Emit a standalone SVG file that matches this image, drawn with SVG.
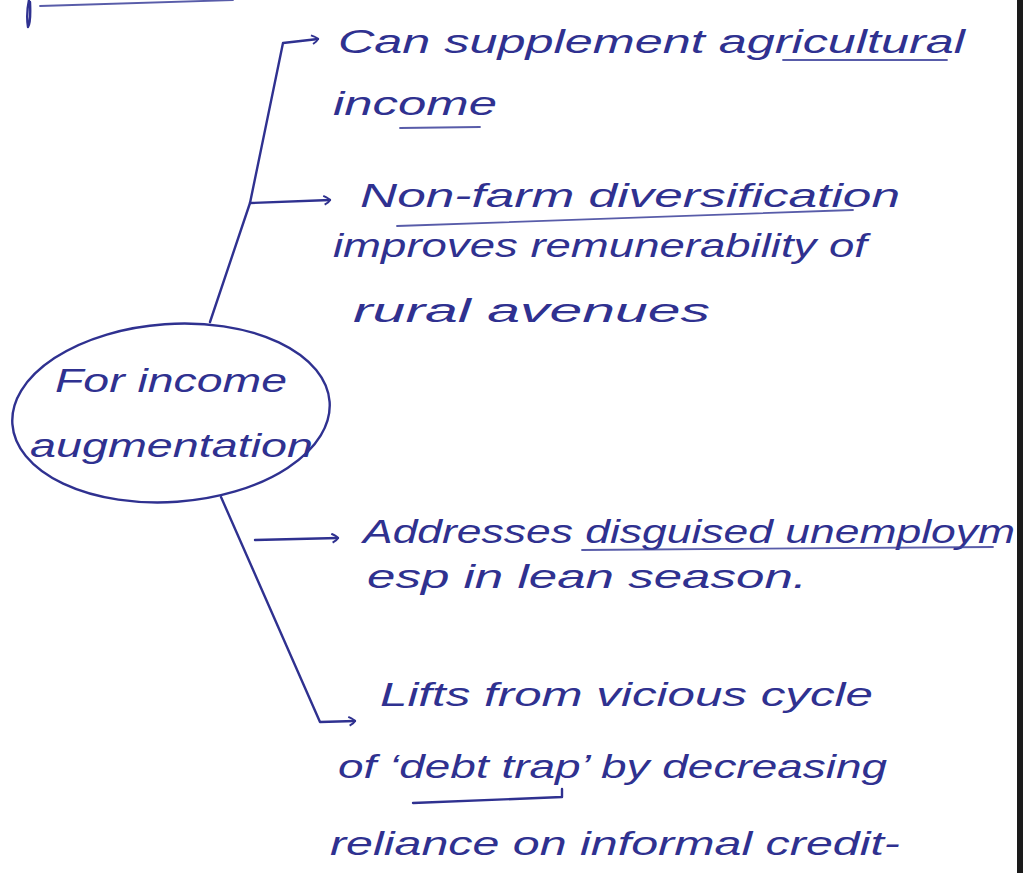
<svg xmlns="http://www.w3.org/2000/svg" width="1028" height="873" viewBox="0 0 1028 873">
<style>
.ink{fill:none;stroke:#2f3190;stroke-width:2.4;stroke-linecap:round;stroke-linejoin:round}
.ul{fill:none;stroke:#3b3f9a;stroke-width:1.8;stroke-linecap:round;opacity:.85}
.t{font-family:"Liberation Sans","DejaVu Sans",sans-serif;font-size:34px;fill:#2f3190;font-style:italic}
</style>
<defs>
<marker id="hook" viewBox="0 0 10 10" refX="9" refY="5" markerWidth="11" markerHeight="11" orient="auto" markerUnits="userSpaceOnUse">
<path d="M3,1 Q9,4 9,5 Q8,7 4,9" fill="none" stroke="#2f3190" stroke-width="1.8"/>
</marker>
</defs>
<rect width="1028" height="873" fill="#ffffff"/>
<rect x="1017" y="0" width="6" height="873" fill="#1a1a1a"/>
<path class="ink" d="M29,0 Q26,14 28,27 Q31,22 30,2"/>
<path class="ul" d="M40,6 L233,0"/>
<g id="connectors">
<path class="ink" d="M210,322 L250,203 L283,43 L318,39" marker-end="url(#hook)"/>
<path class="ink" d="M250,203 L330,200" marker-end="url(#hook)"/>
<path class="ink" d="M221,497 L320,722 L355,721" marker-end="url(#hook)"/>
<path class="ink" d="M255,540 L338,538" marker-end="url(#hook)"/>
</g>
<g id="node-center">
<ellipse class="ink" cx="171" cy="413" rx="159" ry="89" transform="rotate(-4 171 413)"/>
<text class="t" x="55" y="392" textLength="232" lengthAdjust="spacingAndGlyphs">For income</text>
<text class="t" x="30" y="457" textLength="283" lengthAdjust="spacingAndGlyphs">augmentation</text>
</g>
<g id="node-supplement">
<text class="t" x="338" y="53" textLength="627" lengthAdjust="spacingAndGlyphs">Can supplement agricultural</text>
<text class="t" x="333" y="115" textLength="164" lengthAdjust="spacingAndGlyphs">income</text>
<path class="ul" d="M783,60 L947,60"/>
<path class="ul" d="M400,128 L480,127" opacity=".4"/>
</g>
<g id="node-nonfarm">
<text class="t" x="360" y="207" textLength="540" lengthAdjust="spacingAndGlyphs">Non-farm diversification</text>
<text class="t" x="333" y="257" textLength="534" lengthAdjust="spacingAndGlyphs">improves remunerability of</text>
<text class="t" x="353" y="322" textLength="357" lengthAdjust="spacingAndGlyphs">rural avenues</text>
<path class="ul" d="M397,226 L853,210"/>
</g>
<g id="node-unemployment">
<text class="t" x="363" y="543" textLength="652" lengthAdjust="spacingAndGlyphs">Addresses disguised unemploym</text>
<text class="t" x="367" y="588" textLength="440" lengthAdjust="spacingAndGlyphs">esp in lean season.</text>
<path class="ul" d="M582,550 L993,547"/>
</g>
<g id="node-debt">
<text class="t" x="380" y="706" textLength="493" lengthAdjust="spacingAndGlyphs">Lifts from vicious cycle</text>
<text class="t" x="338" y="778" textLength="549" lengthAdjust="spacingAndGlyphs">of ‘debt trap’ by decreasing</text>
<text class="t" x="330" y="855" textLength="570" lengthAdjust="spacingAndGlyphs">reliance on informal credit-</text>
<path class="ink" d="M413,803 L562,797 L562,789" stroke-width="2"/>
</g>
</svg>
